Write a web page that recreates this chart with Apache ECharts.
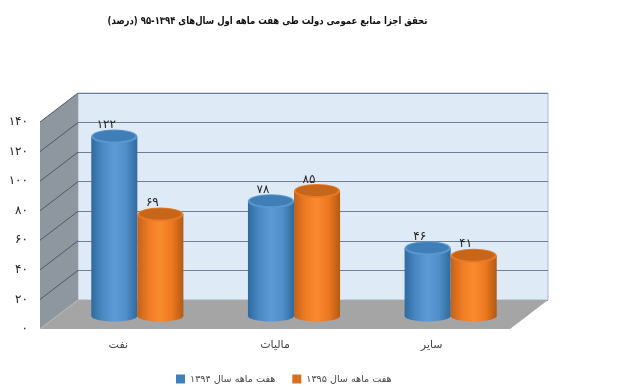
<!DOCTYPE html>
<html lang="fa">
<head>
<meta charset="utf-8">
<style>
  html, body { margin: 0; padding: 0; background: #fff; }
  #chart { width: 640px; height: 387px; }
</style>
</head>
<body>
<div id="chart" dir="rtl"></div>
<script src="https://cdn.jsdelivr.net/npm/echarts@6/dist/echarts.min.js"></script>
<script>
const categories = ['نفت', 'مالیات', 'سایر']
const series1394 = [122, 78, 46]
const series1395 = [69, 85, 41]
const yTicks = [0, 20, 40, 60, 80, 100, 120, 140]
const titleText = 'تحقق اجزا منابع عمومی دولت طی هفت ماهه اول سال‌های ۱۳۹۴-۹۵ (درصد)'
const name1394 = 'هفت ماهه سال ۱۳۹۴'
const name1395 = 'هفت ماهه سال ۱۳۹۵'

const fontFamily = '"DejaVu Sans", sans-serif'
const depth = [38, -29]
const toFa = (n) => String(n).replace(/\d/g, (d) => '۰۱۲۳۴۵۶۷۸۹'[d])

const gradient = (stops) => new echarts.graphic.LinearGradient(0, 0, 1, 0,
  stops.map((color, i) => ({ offset: i / (stops.length - 1), color })))

const blueStyle = {
  body: ['#2f6aa0', '#4a8ac4', '#5c9bd6', '#4f8ec9', '#2f6a9f'],
  top: '#3f7eb6',
  rim: '#5a98d2',
}
const orangeStyle = {
  body: ['#c2621a', '#f07c24', '#fb8a2e', '#ec7820', '#b35a12'],
  top: '#c7661b',
  rim: '#e87a26',
}

const renderWalls = (params, api) => {
  const box = params.coordSys
  const children = []
  const left = box.x
  const right = box.x + box.width
  const base = api.coord([0, 0])[1]
  const top = api.coord([0, yTicks[yTicks.length - 1]])[1]
  children.push({
    type: 'polygon',
    shape: { points: [[left, base], [right, base], [right + depth[0], base + depth[1]], [left + depth[0], base + depth[1]]] },
    style: { fill: '#a5a5a5' },
  })
  children.push({
    type: 'polygon',
    shape: { points: [[left, top], [left, base], [left + depth[0], base + depth[1]], [left + depth[0], top + depth[1]]] },
    style: { fill: '#8e979f' },
  })
  yTicks.forEach((tick) => {
    const y = api.coord([0, tick])[1]
    children.push({
      type: 'line',
      shape: { x1: left, y1: y, x2: left + depth[0], y2: y + depth[1] },
      style: { stroke: tick === 0 ? '#b9b9b9' : '#4e5964', lineWidth: 1 },
    })
  })
  return { type: 'group', children }
}

const renderCylinder = (colors, shift) => (params, api) => {
  const band = api.size([1, 0])[0]
  const rx = band * 0.147
  const cx = api.coord([api.value(0), 0])[0] + band * shift
  const base = api.coord([api.value(0), 0])[1]
  const top = api.coord([api.value(0), api.value(1)])[1]
  const fill = gradient(colors.body)
  return {
    type: 'group',
    children: [
      { type: 'ellipse', shape: { cx, cy: base, rx, ry: 5.5 }, style: { fill } },
      { type: 'rect', shape: { x: cx - rx, y: top, width: rx * 2, height: base - top }, style: { fill } },
      { type: 'ellipse', shape: { cx, cy: top, rx, ry: 7 }, style: { fill: colors.rim } },
      { type: 'ellipse', shape: { cx, cy: top - 0.5, rx: rx - 2, ry: 5.5 }, style: { fill: colors.top } },
      {
        type: 'text',
        style: {
          text: toFa(api.value(1)),
          x: cx - 8,
          y: top - 11.5,
          align: 'center',
          verticalAlign: 'middle',
          font: '12px ' + fontFamily,
          fill: '#222',
        },
      },
    ],
  }
}

const hiddenX = (gridIndex) => ({ type: 'category', gridIndex, data: categories, show: false })
const hiddenY = (gridIndex) => ({ type: 'value', gridIndex, min: 0, max: 140, interval: 20, show: false })

const chart = echarts.init(document.getElementById('chart'), null, { renderer: 'canvas' })
chart.setOption({
  animation: false,
  backgroundColor: '#fff',
  graphic: [
    {
      type: 'text',
      x: 267.5,
      y: 21,
      scaleX: 0.81,
      style: {
        text: titleText,
        align: 'center',
        verticalAlign: 'middle',
        font: 'bold 10.5px ' + fontFamily,
        fill: '#111',
      },
    },
  ],
  legend: {
    left: 171,
    top: 369,
    itemWidth: 9,
    itemHeight: 9,
    itemGap: 17,
    icon: 'rect',
    textStyle: { fontFamily, fontSize: 9.6, color: '#444' },
    data: [name1394, name1395],
  },
  grid: [
    { left: 78, right: 92, top: 93, bottom: 87, show: true, backgroundColor: '#dfeaf7', borderColor: '#a9b9cd', borderWidth: 1 },
    { left: 40, right: 130, top: 122, bottom: 58 },
    { left: 59, right: 111, top: 110, bottom: 71 },
  ],
  xAxis: [
    hiddenX(0),
    {
      type: 'category',
      gridIndex: 1,
      data: categories,
      axisLine: { show: false },
      axisTick: { show: false },
      axisLabel: { interval: 0, margin: 11, fontFamily, fontSize: 11, color: '#444' },
    },
    hiddenX(2),
  ],
  yAxis: [
    {
      type: 'value',
      gridIndex: 0,
      min: 0,
      max: 140,
      interval: 20,
      axisLine: { show: false },
      axisTick: { show: false },
      axisLabel: { show: false },
      splitLine: { show: true, lineStyle: { color: '#6f7e93', width: 1 } },
    },
    {
      type: 'value',
      gridIndex: 1,
      min: 0,
      max: 140,
      interval: 20,
      axisLine: { show: false },
      axisTick: { show: false },
      splitLine: { show: false },
      axisLabel: { margin: 12, formatter: (v) => toFa(v), fontFamily, fontSize: 12, color: '#222' },
    },
    hiddenY(2),
  ],
  series: [
    {
      type: 'custom',
      xAxisIndex: 1,
      yAxisIndex: 1,
      silent: true,
      z: 1,
      data: [[0, 0]],
      renderItem: renderWalls,
    },
    {
      name: name1394,
      type: 'custom',
      xAxisIndex: 2,
      yAxisIndex: 2,
      z: 2,
      itemStyle: { color: '#3f7fbc' },
      data: series1394.map((v, i) => [i, v]),
      renderItem: renderCylinder(blueStyle, -0.147),
    },
    {
      name: name1395,
      type: 'custom',
      xAxisIndex: 2,
      yAxisIndex: 2,
      z: 3,
      itemStyle: { color: '#d9701f' },
      data: series1395.map((v, i) => [i, v]),
      renderItem: renderCylinder(orangeStyle, 0.147),
    },
  ],
})
</script>
</body>
</html>
